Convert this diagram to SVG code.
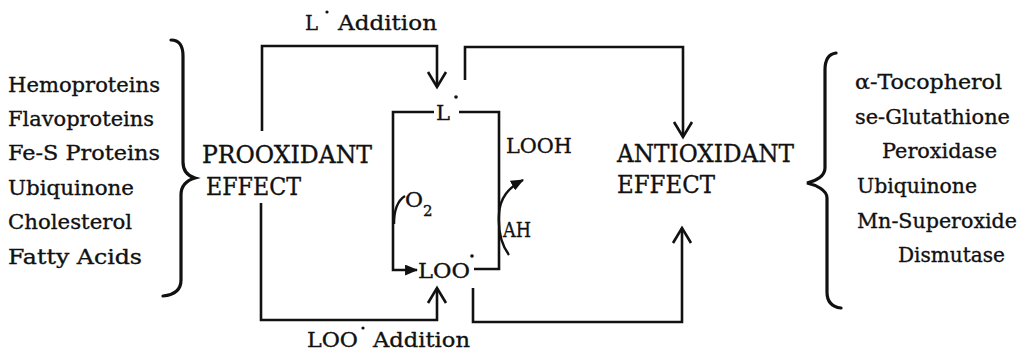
<svg xmlns="http://www.w3.org/2000/svg" width="1024" height="353" viewBox="0 0 1024 353">
<style>
  text { font-family: "DejaVu Serif", "Liberation Serif", serif; fill: #111; stroke: #111; stroke-width: 0.35; }
  .list { font-size: 21px; }
  .big { font-size: 24px; }
  .mid { font-size: 21px; }
  .sub { font-size: 15px; }
  .ln { fill: none; stroke: #111; stroke-width: 2.6; stroke-linejoin: miter; }
  .thin { fill: none; stroke: #111; stroke-width: 2.4; }
  .brace { fill: none; stroke: #111; stroke-width: 3.2; stroke-linecap: round; }
  .dot { fill: #111; }
</style>
<defs>
  <marker id="open" viewBox="0 0 20 20" refX="16" refY="10" markerWidth="20" markerHeight="20" orient="auto" markerUnits="userSpaceOnUse" overflow="visible">
    <path d="M1,1 L16,10 L1,19" fill="none" stroke="#111" stroke-width="2.6"/>
  </marker>
  <marker id="solid" viewBox="0 0 12 10" refX="11" refY="5" markerWidth="13" markerHeight="11" orient="auto" markerUnits="userSpaceOnUse">
    <path d="M0,0 L12,5 L0,10 Z" fill="#111"/>
  </marker>
</defs>

<g id="prooxidant-sources">
  <text class="list" x="8" y="92" textLength="152" lengthAdjust="spacingAndGlyphs">Hemoproteins</text>
  <text class="list" x="8" y="126" textLength="146" lengthAdjust="spacingAndGlyphs">Flavoproteins</text>
  <text class="list" x="8" y="160" textLength="152" lengthAdjust="spacingAndGlyphs">Fe-S Proteins</text>
  <text class="list" x="8" y="195" textLength="126" lengthAdjust="spacingAndGlyphs">Ubiquinone</text>
  <text class="list" x="8" y="229" textLength="124" lengthAdjust="spacingAndGlyphs">Cholesterol</text>
  <text class="list" x="8" y="264" textLength="134" lengthAdjust="spacingAndGlyphs">Fatty Acids</text>
  <path class="brace" d="M171,40 C180,40 183,46 183,56 L183,162 C183,171 188,176 195,178 C188,180 181,185 181,195 L181,280 C181,291 173,295 163,296"/>
</g>

<g id="prooxidant-effect">
  <text class="big" x="202" y="163" textLength="170" lengthAdjust="spacingAndGlyphs">PROOXIDANT</text>
  <text class="big" x="206" y="195" textLength="95" lengthAdjust="spacingAndGlyphs">EFFECT</text>
</g>

<g id="antioxidant-effect">
  <text class="big" x="617" y="162" textLength="177" lengthAdjust="spacingAndGlyphs">ANTIOXIDANT</text>
  <text class="big" x="617" y="193" textLength="98" lengthAdjust="spacingAndGlyphs">EFFECT</text>
</g>

<g id="antioxidant-sources">
  <path class="brace" d="M836,53 C828,54 825,60 825,70 L825,168 C825,176 816,181 807,183 C816,185 827,190 827,198 L827,292 C827,302 832,307 841,308"/>
  <text class="list" x="855" y="89" textLength="147" lengthAdjust="spacingAndGlyphs">α-Tocopherol</text>
  <text class="list" x="855" y="124" textLength="155" lengthAdjust="spacingAndGlyphs">se-Glutathione</text>
  <text class="list" x="882" y="158" textLength="115" lengthAdjust="spacingAndGlyphs">Peroxidase</text>
  <text class="list" x="857" y="193" textLength="120" lengthAdjust="spacingAndGlyphs">Ubiquinone</text>
  <text class="list" x="857" y="228" textLength="160" lengthAdjust="spacingAndGlyphs">Mn-Superoxide</text>
  <text class="list" x="898" y="262" textLength="107" lengthAdjust="spacingAndGlyphs">Dismutase</text>
</g>

<g id="l-radical">
  <text class="mid" x="436" y="120" textLength="14" lengthAdjust="spacingAndGlyphs">L</text>
  <circle class="dot" cx="456" cy="97" r="1.8"/>
</g>

<g id="loo-radical">
  <text class="mid" x="418" y="278" textLength="52" lengthAdjust="spacingAndGlyphs">LOO</text>
  <circle class="dot" cx="472" cy="256" r="1.8"/>
</g>

<g id="looh">
  <text class="mid" x="506" y="153" textLength="66" lengthAdjust="spacingAndGlyphs">LOOH</text>
</g>

<g id="o2">
  <text class="mid" x="405" y="207" textLength="18" lengthAdjust="spacingAndGlyphs">O</text>
  <text class="sub" x="423" y="216">2</text>
</g>

<g id="ah">
  <text class="mid" x="503" y="237" textLength="28" lengthAdjust="spacingAndGlyphs">AH</text>
</g>

<g id="l-addition-label">
  <text class="mid" x="305" y="30" textLength="13" lengthAdjust="spacingAndGlyphs">L</text>
  <circle class="dot" cx="327" cy="12" r="1.6"/>
  <text class="mid" x="338" y="30" textLength="99" lengthAdjust="spacingAndGlyphs">Addition</text>
</g>

<g id="loo-addition-label">
  <text class="mid" x="307" y="347" textLength="51" lengthAdjust="spacingAndGlyphs">LOO</text>
  <circle class="dot" cx="363" cy="328" r="1.6"/>
  <text class="mid" x="373" y="347" textLength="97" lengthAdjust="spacingAndGlyphs">Addition</text>
</g>

<g id="connectors">
  <path class="ln" d="M262,131 V46 H437 V87" marker-end="url(#open)"/>
  <path class="ln" d="M465,80 V47 H683 V137" marker-end="url(#open)"/>
  <path class="ln" d="M261,203 V320 H437 V288" marker-end="url(#open)"/>
  <path class="ln" d="M473,288 V322 H682 V228" marker-end="url(#open)"/>
  <path class="ln" d="M434,112 H393 V270 H417" marker-end="url(#solid)"/>
  <path class="ln" d="M459,112 H499 V269 H474"/>
  <path class="thin" d="M394,224 C394,210 397,201 405,196"/>
  <path class="thin" d="M509,255 C500,243 498,230 499,214 C500,198 508,188 523,180" marker-end="url(#solid)"/>
</g>
</svg>
